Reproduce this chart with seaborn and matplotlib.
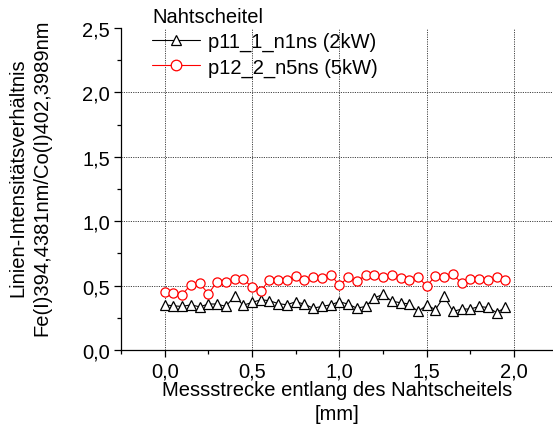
import numpy as np
import pandas as pd
import matplotlib
matplotlib.use("Agg")
import matplotlib.pyplot as plt
import seaborn as sns
from matplotlib.ticker import MultipleLocator, FuncFormatter
from matplotlib.lines import Line2D

# Measurement positions along the seam apex [mm]
position = [0.00, 0.05, 0.10, 0.15, 0.20, 0.25, 0.30, 0.35, 0.40, 0.45,
            0.50, 0.55, 0.60, 0.65, 0.70, 0.75, 0.80, 0.85, 0.90, 0.95,
            1.00, 1.05, 1.10, 1.15, 1.20, 1.25, 1.30, 1.35, 1.40, 1.45,
            1.50, 1.55, 1.60, 1.65, 1.70, 1.75, 1.80, 1.85, 1.90, 1.95]

# Line intensity ratio Fe(I)394.4381nm / Co(I)402.3989nm
ratio_p11 = [0.351, 0.343, 0.338, 0.351, 0.335, 0.357, 0.357, 0.338, 0.418, 0.348,
             0.369, 0.390, 0.383, 0.360, 0.351, 0.375, 0.356, 0.325, 0.338, 0.351,
             0.375, 0.356, 0.325, 0.338, 0.405, 0.432, 0.379, 0.367, 0.357, 0.299,
             0.348, 0.314, 0.418, 0.299, 0.318, 0.318, 0.338, 0.330, 0.291, 0.330]
ratio_p12 = [0.453, 0.440, 0.430, 0.507, 0.518, 0.437, 0.530, 0.530, 0.549, 0.552,
             0.487, 0.460, 0.543, 0.540, 0.546, 0.575, 0.546, 0.569, 0.559, 0.585,
             0.502, 0.564, 0.533, 0.580, 0.585, 0.564, 0.585, 0.561, 0.543, 0.564,
             0.497, 0.575, 0.569, 0.588, 0.518, 0.554, 0.554, 0.543, 0.564, 0.546]

series_labels = ["p11_1_n1ns (2kW)", "p12_2_n5ns (5kW)"]
series_colors = ["black", "red"]
series_markers = ["^", "o"]
legend_title = "Nahtscheitel"

df = pd.DataFrame({"x": position, "p11": ratio_p11, "p12": ratio_p12})

FS = 14.5
MS = 6.6

sns.set_style("ticks")
plt.rcParams["font.family"] = ["Liberation Sans", "DejaVu Sans"]
plt.rcParams["font.size"] = FS
plt.rcParams["text.color"] = "black"
plt.rcParams["axes.labelcolor"] = "black"

fig = plt.figure(figsize=(5.53, 4.27), dpi=100)
ax = fig.add_axes([121 / 553, 1 - 351 / 427, 1 - 121 / 553, (351 - 29) / 427])

for col, color, marker in zip(["p11", "p12"], series_colors, series_markers):
    sns.lineplot(data=df, x="x", y=col, ax=ax, color=color, marker=marker,
                 markersize=MS, markerfacecolor="white", markeredgecolor=color,
                 markeredgewidth=0.9, linewidth=0.8, legend=False)

ax.set_xlim(-0.25, (553 - 164) / 175)
ax.set_ylim(0, 2.5)
ax.xaxis.set_major_locator(MultipleLocator(0.5))
ax.xaxis.set_minor_locator(MultipleLocator(0.25))
ax.yaxis.set_major_locator(MultipleLocator(0.5))
ax.yaxis.set_minor_locator(MultipleLocator(0.25))
comma = FuncFormatter(lambda v, p: f"{v:.1f}".replace(".", ","))
ax.xaxis.set_major_formatter(comma)
ax.yaxis.set_major_formatter(comma)

ax.tick_params(which="major", direction="out", length=5, width=0.9, labelsize=FS,
               pad=3, colors="black")
ax.tick_params(which="minor", direction="out", length=3, width=0.9, colors="black")

for s in ["top", "right"]:
    ax.spines[s].set_visible(False)
for s in ["left", "bottom"]:
    ax.spines[s].set_linewidth(0.9)
    ax.spines[s].set_color("black")

ax.grid(True, which="major", linestyle=(0, (1.2, 1.2)), color="#444444", linewidth=0.7)
ax.set_axisbelow(True)
fig.canvas.draw()
for t in ax.yaxis.get_major_ticks():
    if abs(t.get_loc() - 2.5) < 1e-6 or abs(t.get_loc()) < 1e-6:
        t.gridline.set_visible(False)

ax.set_xlabel("Messstrecke entlang des Nahtscheitels\n[mm]", fontsize=FS, labelpad=0,
              linespacing=1.3, color="black")
ax.set_ylabel("Linien-Intensitätsverhältnis\nFe(I)394,4381nm/Co(I)402,3989nm",
              fontsize=FS, labelpad=22, linespacing=1.35, color="black")
ax.yaxis.label.set_y(0.537)

handles = [Line2D([], [], color=c, marker=m, markersize=MS + 1, markerfacecolor="white",
                  markeredgecolor=c, markeredgewidth=0.9, linewidth=0.8)
           for c, m in zip(series_colors, series_markers)]
leg = ax.legend(handles, series_labels, title=legend_title, loc="upper left",
                bbox_to_anchor=(150 / 553, 1 - 6 / 427), bbox_transform=fig.transFigure,
                frameon=False, fontsize=FS, title_fontsize=FS, handlelength=2.4,
                handletextpad=0.4, labelspacing=0.3, borderpad=0.1, borderaxespad=0,
                alignment="left")
for txt in leg.get_texts():
    txt.set_color("black")
leg.get_title().set_color("black")

fig.savefig("out.png", dpi=100)
